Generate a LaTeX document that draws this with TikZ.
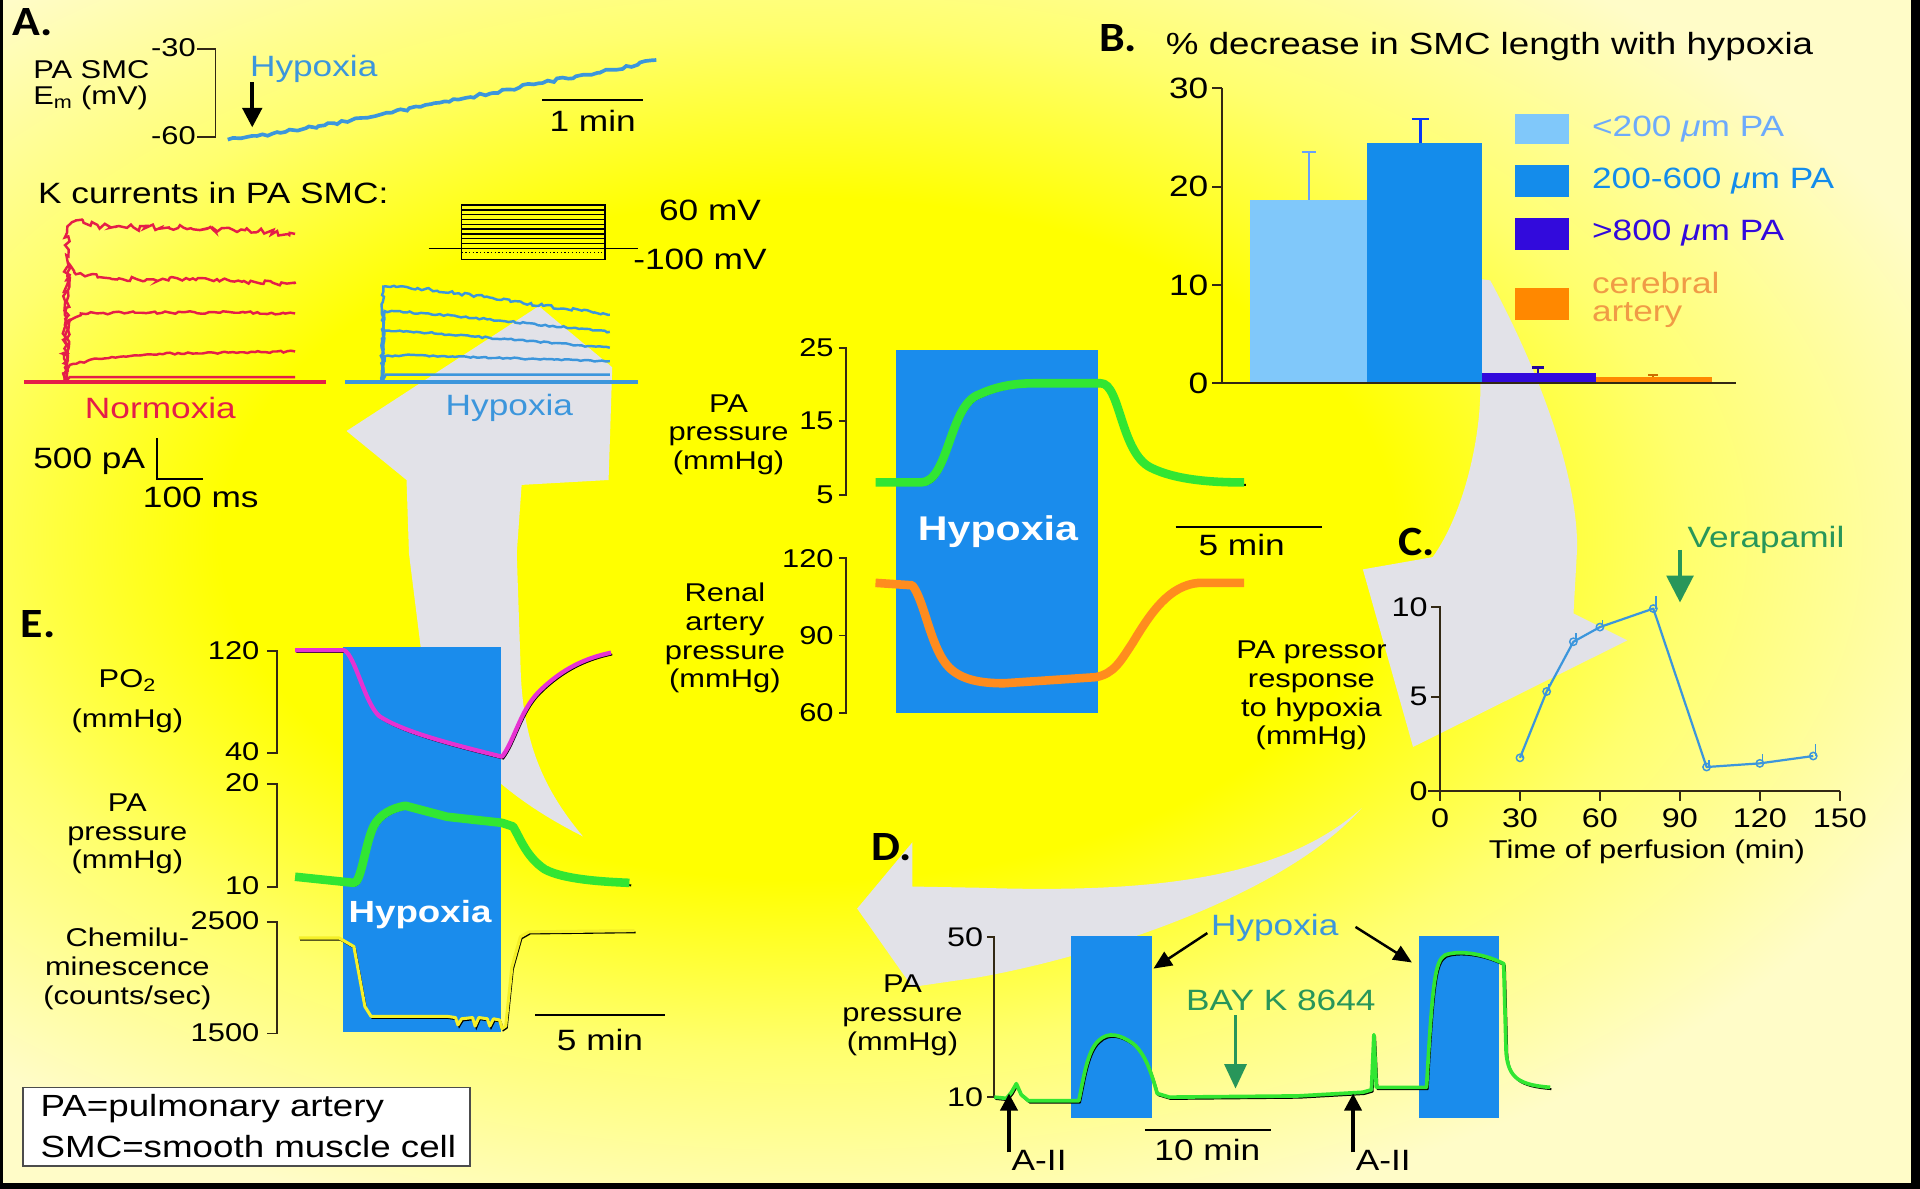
\documentclass[tikz,border=0pt]{standalone}
\usepackage{fontspec}
\setmainfont[FakeStretch=1.2]{Liberation Sans}
\newfontfamily\labfont[FakeStretch=1.1]{Carlito}
\usetikzlibrary{decorations.pathmorphing,arrows.meta}
\newcommand\fz[1]{\fontsize{#1}{#1}\selectfont}
\newcommand\fzl[2]{\fontsize{#1}{#2}\selectfont}
\definecolor{bgpale}{RGB}{255,252,200}
\definecolor{bgmid}{RGB}{255,255,110}
\definecolor{bgyel}{RGB}{255,255,0}
\definecolor{ringgrey}{RGB}{226,226,232}
\definecolor{hypblue}{RGB}{60,150,220}
\definecolor{boxblue}{RGB}{26,140,236}
\definecolor{nred}{RGB}{228,30,72}
\definecolor{tgreen}{RGB}{50,230,50}
\definecolor{torange}{RGB}{255,140,30}
\definecolor{tmag}{RGB}{230,50,210}
\definecolor{dgreen}{RGB}{40,150,90}
\definecolor{lblue}{RGB}{128,200,250}
\definecolor{mblue}{RGB}{20,140,235}
\definecolor{purp}{RGB}{50,10,220}
\definecolor{barorange}{RGB}{255,136,0}
\definecolor{orangetxt}{RGB}{240,155,70}
\definecolor{axisc}{RGB}{50,40,20}
\definecolor{chyel}{RGB}{245,240,40}
\pgfdeclareradialshading{bgshade}{\pgfpoint{0bp}{0bp}}{color(0bp)=(bgyel); color(12bp)=(bgyel); color(18bp)=(bgmid); color(25bp)=(bgpale); color(50bp)=(bgpale)}
\begin{document}
\begin{tikzpicture}[x=1pt,y=-1pt,
  txt/.style={inner sep=0pt,font=\fz{24}},
  sm/.style={inner sep=0pt,font=\fz{21}},
  ml/.style={inner sep=0pt,align=center,font=\fzl{21}{23.5}},
  lbl/.style={inner sep=0pt,font=\labfont\bfseries\fz{34}},
  ax/.style={draw=axisc,line width=1.6pt},
  jit/.style 2 args={decorate,decoration={random steps,segment length=#1,amplitude=#2}},
  shd/.style={draw=black,line width=1.6pt,shift={(1.5,2)},line join=round},
  gtrace/.style={draw=tgreen,line width=7pt,line join=round},
  blk/.style={-{Triangle[length=14pt,width=14pt]},line width=3pt,black}
]
\pgfmathsetseed{4242}
\useasboundingbox (0,0) rectangle (1568,971);
% background
\fill[bgpale] (0,0) rectangle (1568,971);
\begin{scope}
\clip (0,0) rectangle (1568,971);
\shade[shading=bgshade] (660,440) ellipse [x radius=1000, y radius=580];
\end{scope}
% grey cycle arrows
\fill[ringgrey] (476,683) .. controls (440,640) and (426,600) .. (425,540) -- (422,452) -- (426,396) -- (497,392) -- (500,300) -- (440,250) -- (283,352) -- (332,392) -- (334,452) -- (345,540) .. controls (360,610) and (420,655) .. cycle;
\fill[ringgrey] (1210,228) -- (1217,229) .. controls (1250,290) and (1288,380) .. (1288,447) -- (1285,501) -- (1329,523) -- (1154,610) -- (1113,465) -- (1170,455) .. controls (1195,420) and (1209,360) .. (1209,316) -- cycle;
\fill[ringgrey] (1112,660) .. controls (1050,715) and (950,730) .. (800,725) -- (745,724) -- (745,688) -- (700,742) -- (745,806) -- (800,798) .. controls (900,780) and (1050,730) .. cycle;
% frame
\fill[black] (0,0) rectangle (2.5,971);
\fill[black] (0,966) rectangle (1568,971);
\fill[black] (1561,0) rectangle (1568,971);

%================ Panel A
\node[lbl] (labA) at (27,18) {A.};
\node[sm,anchor=west] (pasmc) at (27,57) {PA SMC};
\node[sm,anchor=west] (em) at (27,80) {E\textsubscript{m} (mV)};
\draw[ax] (161,40) -- (176,40) -- (176,112) -- (161,112);
\node[sm,anchor=east] (am30) at (160,39) {-30};
\node[sm,anchor=east] (am60) at (160,111) {-60};
\node[txt,anchor=west,text=hypblue] (ahyp) at (204,56) {Hypoxia};
\coordinate (aarr1) at (206,67);
\coordinate (aarr2) at (206,104);
\draw[-{Triangle[length=16pt,width=16pt]},line width=3pt] (aarr1) -- (aarr2);
\draw[hypblue,line width=3pt,jit={4pt}{1.3pt}] (186,114) -- (210,111) -- (260,103) -- (320,92) -- (380,80) -- (440,68) -- (500,57) -- (536,49);
\coordinate (am1) at (443,82); \coordinate (am2) at (525,82);
\draw[line width=1.6pt] (am1) -- (am2);
\node[txt] (amin) at (484,99) {1 min};
\node[txt,anchor=west] (kcur) at (31,158) {K currents in PA SMC:};
% normoxia currents
\draw[nred,line width=3pt] (20,312) -- (266,312);
\draw[nred,line width=2pt,jit={3pt}{2.6pt}] (53,312) -- (55,185) -- (62,180) -- (90,186) -- (150,186) -- (200,188) -- (241,191);
\draw[nred,line width=2pt,jit={3pt}{1.8pt}] (53,312) -- (56,215) -- (62,224) -- (100,228) -- (170,228) -- (241,232);
\draw[nred,line width=2pt,jit={3pt}{1.2pt}] (53,312) -- (57,262) -- (66,256) -- (150,255) -- (241,256);
\draw[nred,line width=2pt,jit={3pt}{0.8pt}] (53,312) -- (57,298) -- (80,293) -- (130,289) -- (241,287);
\draw[nred,line width=2pt] (53,312) -- (57,308) -- (241,308);
% hypoxia currents
\draw[hypblue,line width=3pt] (282,312) -- (521,312);
\draw[hypblue,line width=2pt,jit={3pt}{1.3pt}] (312,312) -- (313,234) -- (330,234) -- (400,243) -- (460,252) -- (498,257);
\draw[hypblue,line width=2pt,jit={3pt}{0.8pt}] (312,312) -- (314,254) -- (350,256) -- (498,271);
\draw[hypblue,line width=2pt,jit={3pt}{0.7pt}] (312,312) -- (314,270) -- (340,271) -- (498,284);
\draw[hypblue,line width=2pt,jit={3pt}{0.6pt}] (312,312) -- (314,291) -- (330,290) -- (498,295);
\draw[hypblue,line width=2pt] (312,312) -- (315,306) -- (498,306);
% voltage protocol
\draw[line width=1.2pt] (377,167.6) rectangle (494,212);
\foreach \k in {1,...,8} \draw[line width=1.1pt] (377,{167.6+3.9*\k}) -- (494,{167.6+3.9*\k});
\draw[line width=1.2pt] (350,203) -- (521,203);
\draw[line width=1pt,dotted] (377,206.5) -- (494,206.5);
\node[txt,anchor=west] (v60) at (538,172) {60 mV};
\node[txt,anchor=west] (v100) at (517,212) {-100 mV};
\node[txt,text=nred] (normox) at (131,333) {Normoxia};
\node[txt,text=hypblue] (hypox) at (416,333) {Hypoxia};
\node[txt,anchor=west] (pa500) at (27,377) {500 pA};
\draw[line width=1.6pt] (128,358) -- (128,391) -- (166,391);
\node[txt] (ms100) at (164,406) {100 ms};

%================ Panel B
\node[lbl] (labB) at (913,31) {B.};
\node[txt,anchor=west,font=\fz{25}] (btitle) at (952,38) {\% decrease in SMC length with hypoxia};
\fill[lblue] (1021,163) rectangle (1116,313);
\fill[mblue] (1116,117) rectangle (1210,313);
\fill[purp] (1210,305) rectangle (1303,313);
\fill[barorange] (1303,308) rectangle (1398,313);
\draw[lblue!80!blue,line width=2pt] (1069,163) -- (1069,124) (1063,124) -- (1075,124);
\draw[blue!60!mblue,line width=2pt] (1160,117) -- (1160,97) (1153,97) -- (1167,97);
\draw[purp!70!black,line width=2pt] (1256,305) -- (1256,300) (1251,300) -- (1261,300);
\draw[barorange!80!black,line width=1.5pt] (1350,308) -- (1350,306) (1346,306) -- (1354,306);
\draw[ax] (998,72) -- (998,313) -- (1418,313);
\foreach \v/\n in {0/0,10/1,20/2,30/3} {
  \draw[ax] (990,{313-8.03*\v}) -- (998,{313-8.03*\v});
  \node[txt,anchor=east] (bt\n) at (987,{313-8.03*\v}) {\v};
}
\fill[lblue] (1237,93) rectangle (1281,118);
\fill[mblue] (1237,135) rectangle (1281,161);
\fill[purp] (1237,178) rectangle (1281,204);
\fill[barorange] (1237,235) rectangle (1281,261);
\node[txt,anchor=west,text=lblue!85!blue] (lg1) at (1300,105) {<200 \textit{μ}m PA};
\node[txt,anchor=west,text=mblue] (lg2) at (1300,148) {200-600 \textit{μ}m PA};
\node[txt,anchor=west,text=purp] (lg3) at (1300,190) {>800 \textit{μ}m PA};
\node[txt,anchor=west,align=left,text=orangetxt,font=\fzl{24}{23}] (lg4) at (1300,245) {cerebral\\artery};

%================ Center panel
\fill[boxblue] (732,286) rectangle (897,582);
\node[txt,text=white,font=\bfseries\fz{28}] (chyp) at (815,434) {Hypoxia};
\draw[ax] (685,284) -- (691,284) -- (691,404) -- (685,404) (685,344) -- (691,344);
\node[sm,anchor=east] (c25) at (681,284) {25};
\node[sm,anchor=east] (c15) at (681,344) {15};
\node[sm,anchor=east] (c5) at (681,404) {5};
\node[ml] (cpa) at (595,355) {PA\\pressure\\(mmHg)};
\draw[ax] (685,456) -- (691,456) -- (691,582) -- (685,582) (685,519) -- (691,519);
\node[sm,anchor=east] (c120) at (681,456) {120};
\node[sm,anchor=east] (c90) at (681,519) {90};
\node[sm,anchor=east] (c60) at (681,582) {60};
\node[ml] (cren) at (592,521) {Renal\\artery\\pressure\\(mmHg)};
\def\cgreen{(715,394) -- (752,394) .. controls (775,394) and (775,330) .. (800,322) .. controls (815,315) and (830,313) .. (845,313) -- (899,313) .. controls (915,313) and (915,370) .. (940,382) .. controls (960,392) and (990,394) .. (1016,394)}
\draw[shd] \cgreen;
\draw[gtrace] \cgreen;
\draw[torange,line width=7pt,line join=round] (715,476) -- (745,478) .. controls (755,490) and (760,530) .. (775,545) .. controls (785,555) and (800,558) .. (820,558) -- (895,553) .. controls (910,550) and (915,540) .. (925,525) .. controls (940,500) and (955,478) .. (979,476) -- (1016,476);
\coordinate (c5a) at (960,430); \coordinate (c5b) at (1080,430);
\draw[line width=1.6pt] (c5a) -- (c5b);
\node[txt] (c5min) at (1014,445) {5 min};

%================ Panel C
\node[lbl] (labC) at (1157,443) {C.};
\node[txt,anchor=west,text=dgreen] (verap) at (1378,441) {Verapamil};
\coordinate (va1) at (1372,449); \coordinate (va2) at (1372,492);
\draw[dgreen,line width=2.5pt,-{Triangle[length=22pt,width=22pt]}] (va1) -- (va2);
\draw[ax] (1169,496) -- (1176,496) -- (1176,646) (1169,569) -- (1176,569) (1166,646) -- (1503,646);
\node[sm,anchor=east,font=\fz{22}] (cy10) at (1166,496) {10};
\node[sm,anchor=east,font=\fz{22}] (cy5) at (1166,569) {5};
\node[sm,anchor=east,font=\fz{22}] (cy0) at (1166,646) {0};
\foreach \t [count=\i] in {0,30,60,90,120,150} {
  \draw[ax] ({1176+2.177*\t},646) -- ({1176+2.177*\t},654);
  \node[sm,font=\fz{22}] (cx\i) at ({1176+2.177*\t},668) {\t};
}
\node[sm] (ctime) at (1345,696) {Time of perfusion (min)};
\node[ml] (cresp) at (1071,568) {PA pressor\\response\\to hypoxia\\(mmHg)};
\draw[hypblue,line width=1.8pt,line join=round] (1241.3,618.9) -- (1263.1,564.7) -- (1284.9,524.1) -- (1306.6,512.1) -- (1350.2,497.0) -- (1393.7,626.4) -- (1437.2,623.4) -- (1480.8,617.4);
\foreach \px/\py/\e in {1241.3/618.9/5,1263.1/564.7/6,1284.9/524.1/7,1306.6/512.1/6,1350.2/497.0/10,1393.7/626.4/6,1437.2/623.4/8,1480.8/617.4/10} {
  \draw[hypblue,line width=1.2pt] (\px,\py) circle (3);
  \draw[hypblue,line width=1.2pt] (\px+2,\py) -- (\px+2,\py-\e);
}

%================ Panel D
\node[lbl] (labD) at (728,692) {D.};
\draw[ax] (806,765) -- (812,765) -- (812,896) -- (806,896);
\node[sm,anchor=east,font=\fz{22}] (d50) at (803,765) {50};
\node[sm,anchor=east,font=\fz{22}] (d10) at (803,896) {10};
\node[ml] (dpa) at (737,829) {PA\\pressure\\(mmHg)};
\fill[boxblue] (875,764) rectangle (941,913);
\fill[boxblue] (1159,764) rectangle (1224,913);
\def\dgreenp{(812,896) -- (822,897) -- (826,892) -- (830,885) -- (834,894) -- (840,899) -- (881,899) .. controls (885,880) and (888,858) .. (897,850) .. controls (905,842) and (915,845) .. (925,852) .. controls (935,860) and (940,875) .. (945,893) -- (955,896) -- (1060,895) -- (1113,892) -- (1120,890) -- (1122,845) -- (1124,888) -- (1165,888) .. controls (1170,800) and (1172,785) .. (1180,780) .. controls (1190,776) and (1210,778) .. (1228,787) -- (1230,860) .. controls (1232,880) and (1240,886) .. (1266,888)}
\draw[black,line width=1.5pt,shift={(1,1.5)},line join=round] \dgreenp;
\draw[tgreen,line width=3pt,line join=round] \dgreenp;
\node[txt,text=hypblue] (dhyp) at (1041,758) {Hypoxia};
\coordinate (dh1) at (986,762); \coordinate (dh2) at (942,791);
\coordinate (dh3) at (1107,757); \coordinate (dh4) at (1153,786);
\draw[-{Triangle[length=15pt,width=13pt]},line width=2pt] (dh1) -- (dh2);
\draw[-{Triangle[length=15pt,width=13pt]},line width=2pt] (dh3) -- (dh4);
\node[txt,text=dgreen] (bay) at (1046,817) {BAY K 8644};
\coordinate (ba1) at (1009,829); \coordinate (ba2) at (1009,889);
\draw[dgreen,line width=2.5pt,-{Triangle[length=20pt,width=18pt]}] (ba1) -- (ba2);
\coordinate (d10a) at (935,923); \coordinate (d10b) at (1038,923);
\draw[line width=1.6pt] (d10a) -- (d10b);
\node[txt] (d10min) at (986,939) {10 min};
\coordinate (aii1) at (824,941); \coordinate (aii2) at (824,893);
\draw[blk] (aii1) -- (aii2);
\node[txt,anchor=west] (aiit1) at (826,948) {A-II};
\coordinate (aii3) at (1105,941); \coordinate (aii4) at (1105,893);
\draw[blk] (aii3) -- (aii4);
\node[txt,anchor=west] (aiit2) at (1107,948) {A-II};

%================ Panel E
\node[lbl] (labE) at (31,510) {E.};
\fill[boxblue] (280,528) rectangle (409,843);
\node[txt,text=white,font=\bfseries\fz{25}] (ehyp) at (343,747) {Hypoxia};
\draw[ax] (218,532) -- (226,532) -- (226,615) -- (218,615);
\draw[ax] (218,640) -- (226,640) -- (226,724) -- (218,724);
\draw[ax] (218,753) -- (226,753) -- (226,844) -- (218,844);
\node[sm,anchor=east] (e120) at (212,531) {120};
\node[sm,anchor=east] (e40) at (212,614) {40};
\node[sm,anchor=east] (e20) at (212,639) {20};
\node[sm,anchor=east] (e10) at (212,723) {10};
\node[sm,anchor=east] (e2500) at (212,752) {2500};
\node[sm,anchor=east] (e1500) at (212,843) {1500};
\node[sm] (epo2) at (104,556) {PO\textsubscript{2}};
\node[sm] (epo2u) at (104,589) {(mmHg)};
\node[ml] (epa) at (104,681) {PA\\pressure\\(mmHg)};
\node[ml] (echem) at (104,791) {Chemilu-\\minescence\\(counts/sec)};
\def\emag{(241,531) -- (281,531) .. controls (290,535) and (298,575) .. (310,585) .. controls (330,598) and (370,608) .. (410,618) .. controls (420,605) and (425,580) .. (440,565) .. controls (460,545) and (480,537) .. (499,533)}
\draw[black,line width=1.5pt,shift={(1,1.5)}] \emag;
\draw[tmag,line width=3.5pt,line join=round] \emag;
\def\epa{(241,716) -- (289,721) .. controls (295,721) and (298,690) .. (305,675) .. controls (310,665) and (320,660) .. (331,658) -- (365,667) -- (410,672) -- (419,675) .. controls (425,685) and (430,700) .. (445,710) .. controls (460,718) and (490,720) .. (514,721)}
\draw[shd] \epa;
\draw[gtrace] \epa;
\def\echem{(244,766) -- (277,766) -- (289,773) -- (298,822) -- (303,830) -- (365,830) -- (372,831) -- (374,837) -- (377,832) -- (386,831) -- (388,838) -- (391,831) -- (398,832) -- (400,838) -- (403,832) -- (408,833) -- (410,840) -- (413,838) -- (418,790) -- (425,765) -- (432,761) -- (518,760)}
\draw[black,line width=1.3pt,shift={(1,1.5)}] \echem;
\draw[chyel,line width=2.5pt,line join=round] \echem;
\coordinate (e5a) at (437,829); \coordinate (e5b) at (543,829);
\draw[line width=1.6pt] (e5a) -- (e5b);
\node[txt] (e5min) at (490,849) {5 min};

%================ legend box
\draw[fill=white,draw=black!70,line width=1.4pt] (19,888) rectangle (384,952);
\node[txt,anchor=west,font=\fz{25}] (leg1) at (33,905) {PA=pulmonary artery};
\node[txt,anchor=west,font=\fz{25}] (leg2) at (33,936) {SMC=smooth muscle cell};
\end{tikzpicture}
\end{document}
